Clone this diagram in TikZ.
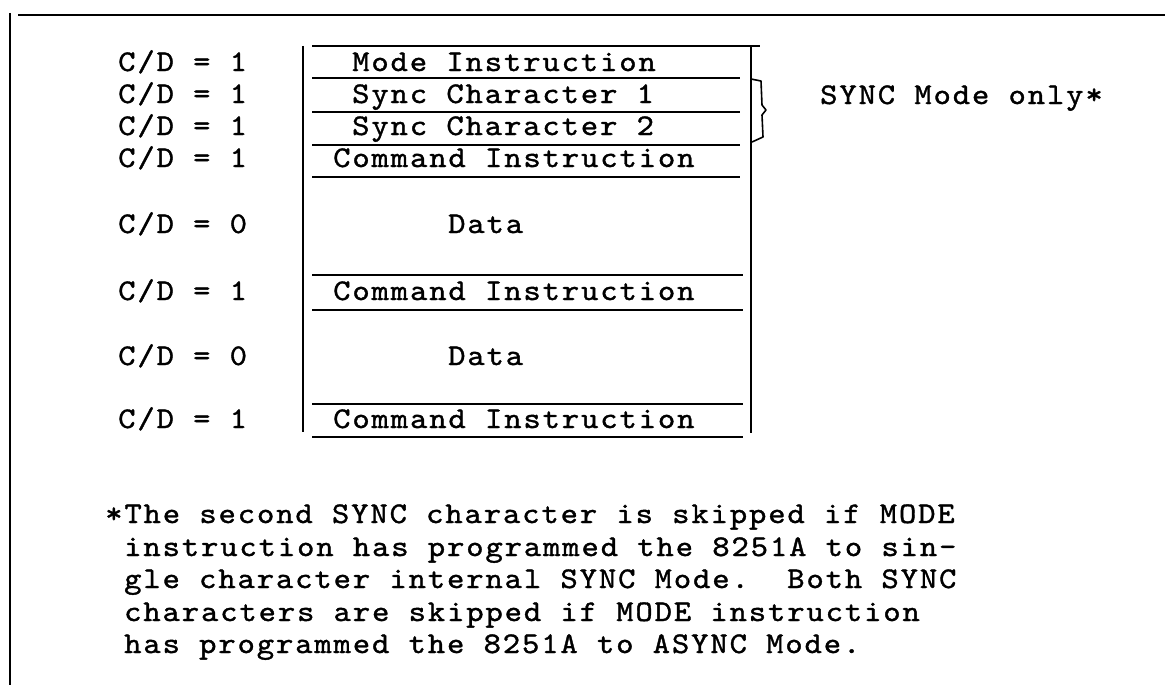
\documentclass[tikz,border=0pt]{standalone}
\usepackage{fontspec}
% typewriter face with the wide pitch of a daisy-wheel printer
\newfontfamily\tw{lmmono10-regular.otf}[FakeStretch=1.1,LetterSpace=6.3,FakeBold=1.2]
\begin{document}
\begin{tikzpicture}[x=1pt,y=-1pt,
  txt/.style={font=\tw\fontsize{30}{32.5}\selectfont, anchor=base west, inner sep=0pt},
  rule/.style={line width=2.4pt},
  frame/.style={line width=2.6pt},
  bracestyle/.style={line width=1.6pt, line join=round, line cap=round}]
\useasboundingbox (0,0) rectangle (1165,685);
\fill[white] (0,0) rectangle (1165,685);

% outer frame (left and top edges)
\draw[frame] (10,13) -- (10,685);
\draw[frame] (18,15) -- (1165,15);

% register sequence box
\draw[rule] (303,46) -- (303,432);
\draw[rule] (751,47) -- (751,433);
\draw[rule] (312,46) -- (760,46);
\foreach \yy in {78,112,145,177} \draw[rule] (312,\yy) -- (740,\yy);
\foreach \yy in {275,310,404,437} \draw[rule] (312,\yy) -- (743,\yy);

% brace for the two sync characters
\draw[bracestyle] (751,79) -- (761,81) -- (762,105) -- (766,110) -- (762,115) -- (763,137) -- (752,142);

% C/D column
\node[txt] (cd1) at (118,71)  {C/D = 1};
\node[txt] (cd2) at (118,103) {C/D = 1};
\node[txt] (cd3) at (118,135) {C/D = 1};
\node[txt] (cd4) at (118,167) {C/D = 1};
\node[txt] (cd5) at (118,233) {C/D = 0};
\node[txt] (cd6) at (118,300) {C/D = 1};
\node[txt] (cd7) at (118,365) {C/D = 0};
\node[txt] (cd8) at (118,428) {C/D = 1};

% box contents
\node[txt] (mode)  at (352,71)  {Mode Instruction};
\node[txt] (sync1) at (352,103) {Sync Character 1};
\node[txt] (sync2) at (352,135) {Sync Character 2};
\node[txt] (cmd1)  at (333,167) {Command Instruction};
\node[txt] (dat1)  at (448,233) {Data};
\node[txt] (cmd2)  at (333,300) {Command Instruction};
\node[txt] (dat2)  at (448,365) {Data};
\node[txt] (cmd3)  at (333,428) {Command Instruction};

\node[txt] (synconly) at (820,104) {SYNC Mode only*};

% footnote
\node[txt] (n1) at (105,523) {*The second SYNC character is skipped if MODE};
\node[txt] (n2) at (124,556) {instruction has programmed the 8251A to sin-};
\node[txt] (n3) at (124,588) {gle character internal SYNC Mode.\ \ Both SYNC};
\node[txt] (n4) at (124,621) {characters are skipped if MODE instruction};
\node[txt] (n5) at (124,653) {has programmed the 8251A to ASYNC Mode.};
\end{tikzpicture}
\end{document}
